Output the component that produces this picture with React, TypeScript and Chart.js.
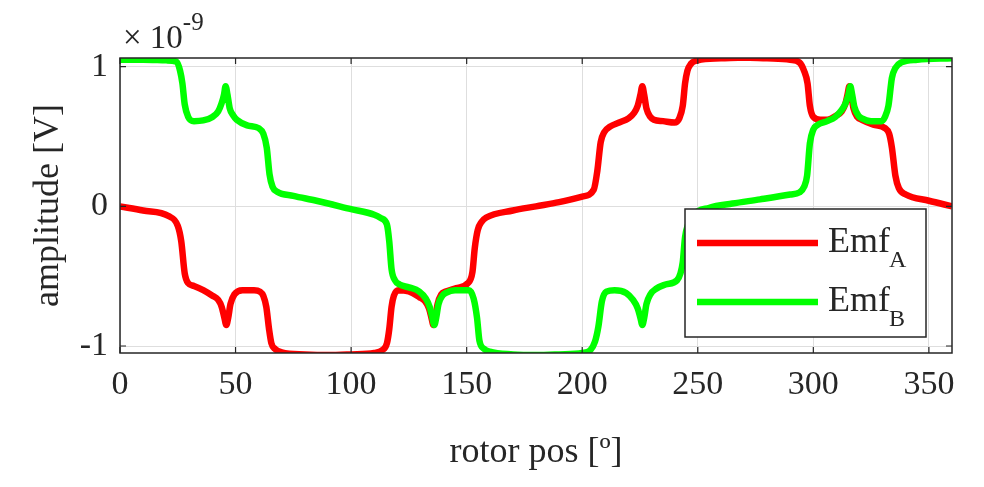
import { useEffect, useRef } from "react";
import { Chart, registerables } from "chart.js";

Chart.register(...registerables);

// rotor position (deg) and back-emf (x1e-9 V)
const emfAPos = [
  0, 10, 21, 25, 26.5, 28, 29.5, 32, 36, 40,
  42.5, 44, 45.2, 46, 46.8, 47.8, 49.5, 53, 58, 60.5,
  62, 63.3, 64.5, 65.5, 67, 70, 80, 90, 100, 110,
  113.5, 115.5, 116.5, 117.5, 118.5, 120.5, 125, 129.5, 132, 133.7,
  134.8, 135.6, 136.4, 137.4, 139, 141, 145.5, 150.5, 152.5, 153.5,
  154.8, 156.5, 158.5, 170, 180, 190, 200, 205, 206.5, 208,
  209.5, 212, 216, 220, 222.5, 224, 225.2, 226, 226.8, 227.8,
  229.5, 231, 235, 240, 242, 243.5, 244.5, 245.5, 247, 250,
  260, 270, 280, 290, 294, 296, 297.5, 298.5, 300, 303,
  306, 310, 312.3, 313.8, 314.8, 315.6, 316.4, 317.4, 319, 321,
  326, 331, 332.8, 334, 335.5, 337, 340, 350, 360,
];
const emfAVal = [
  0, -0.03, -0.07, -0.14, -0.25, -0.48, -0.55, -0.57, -0.6, -0.64,
  -0.67, -0.72, -0.8, -0.85, -0.8, -0.7, -0.63, -0.6, -0.6, -0.61,
  -0.64, -0.72, -0.88, -0.98, -1.02, -1.045, -1.06, -1.065, -1.06, -1.05,
  -1.03, -0.98, -0.88, -0.72, -0.64, -0.6, -0.61, -0.65, -0.68, -0.73,
  -0.8, -0.85, -0.8, -0.7, -0.63, -0.61, -0.585, -0.55, -0.47, -0.3,
  -0.17, -0.11, -0.08, -0.03, 0, 0.03, 0.07, 0.12, 0.25, 0.46,
  0.53, 0.57, 0.6, 0.63, 0.67, 0.72, 0.8, 0.86, 0.8, 0.7,
  0.64, 0.62, 0.61, 0.6, 0.63, 0.72, 0.88, 0.97, 1.02, 1.045,
  1.06, 1.065, 1.06, 1.05, 1.03, 0.97, 0.88, 0.72, 0.64, 0.62,
  0.62, 0.65, 0.68, 0.73, 0.8, 0.86, 0.8, 0.7, 0.64, 0.62,
  0.585, 0.56, 0.52, 0.42, 0.22, 0.13, 0.085, 0.04, 0,
];
const emfBPos = [
  0, 10, 20, 24.5, 26, 27, 28, 29.5, 32, 36,
  40, 42.5, 44, 45, 45.7, 46.5, 47.5, 49, 50.5, 55,
  60, 62, 63.5, 64.7, 66, 68, 75, 85, 100, 110,
  113, 115.5, 116.5, 117.5, 119, 121, 125, 129.5, 132.3, 134,
  135.2, 136, 136.8, 137.8, 139.5, 141, 145, 151, 153, 154.5,
  155.5, 157.5, 160, 170, 180, 190, 200, 203.5, 205.5, 207,
  208.5, 210.5, 214, 219, 222, 224, 225.2, 226, 226.8, 227.8,
  229.5, 232, 236, 241, 242.5, 243.5, 244.5, 246, 248, 255,
  265, 277, 290, 294, 296, 297.3, 298.5, 300, 302, 306,
  309.5, 312.3, 314, 315.2, 316, 316.8, 317.8, 319.5, 321, 325,
  329.5, 331, 332.5, 334, 335.5, 338, 345, 360,
];
const emfBVal = [
  1.05, 1.05, 1.045, 1.035, 0.97, 0.88, 0.73, 0.64, 0.61, 0.615,
  0.64, 0.68, 0.74, 0.8, 0.86, 0.8, 0.7, 0.65, 0.62, 0.58,
  0.56, 0.52, 0.42, 0.23, 0.14, 0.105, 0.075, 0.04, -0.02, -0.06,
  -0.085, -0.13, -0.25, -0.45, -0.53, -0.56, -0.58, -0.61, -0.66, -0.72,
  -0.8, -0.85, -0.8, -0.7, -0.64, -0.62, -0.6, -0.6, -0.66, -0.8,
  -0.96, -1.02, -1.04, -1.06, -1.065, -1.06, -1.05, -1.03, -0.97, -0.86,
  -0.68, -0.61, -0.6, -0.62, -0.67, -0.73, -0.8, -0.85, -0.8, -0.7,
  -0.63, -0.59, -0.56, -0.53, -0.48, -0.4, -0.22, -0.12, -0.06, -0.01,
  0.02, 0.05, 0.085, 0.1, 0.14, 0.22, 0.45, 0.55, 0.585, 0.61,
  0.64, 0.69, 0.74, 0.8, 0.86, 0.8, 0.71, 0.65, 0.63, 0.61,
  0.61, 0.64, 0.72, 0.92, 0.99, 1.03, 1.05, 1.06,
];

const xTicks = [0, 50, 100, 150, 200, 250, 300, 350];
const yTicks = [-1, 0, 1];
const seriesNames = ["Emf", "Emf"];
const seriesSubs = ["A", "B"];
const seriesColors = ["#ff0000", "#00ff00"];
const xTitle = "rotor pos [º]";
const yTitle = "amplitude [V]";
const expBase = "× 10";
const expPower = "-9";

const FONT = '"Liberation Serif", "DejaVu Serif", serif';
const INK = "#262626";

const decorPlugin = {
  id: "decor",
  afterDatasetsDraw(chart: any) {
    const { ctx, chartArea: a, scales } = chart;
    const xs = scales.x;
    const ys = scales.y;
    ctx.save();
    // axes box with inward ticks
    ctx.strokeStyle = INK;
    ctx.lineWidth = 1.5;
    ctx.strokeRect(a.left, a.top, a.right - a.left, a.bottom - a.top);
    ctx.lineWidth = 1.2;
    ctx.beginPath();
    xTicks.forEach((v) => {
      const px = xs.getPixelForValue(v);
      ctx.moveTo(px, a.bottom);
      ctx.lineTo(px, a.bottom - 6);
      ctx.moveTo(px, a.top);
      ctx.lineTo(px, a.top + 6);
    });
    yTicks.forEach((v) => {
      const py = ys.getPixelForValue(v);
      ctx.moveTo(a.left, py);
      ctx.lineTo(a.left + 6, py);
      ctx.moveTo(a.right, py);
      ctx.lineTo(a.right - 6, py);
    });
    ctx.stroke();

    // exponent label
    ctx.fillStyle = INK;
    ctx.textAlign = "left";
    ctx.textBaseline = "alphabetic";
    ctx.font = `33px ${FONT}`;
    ctx.fillText(expBase, a.left + 3, 48);
    const w = ctx.measureText(expBase).width;
    ctx.font = `25px ${FONT}`;
    ctx.fillText(expPower, a.left + 3 + w, 30);

    // axis titles
    ctx.font = `36px ${FONT}`;
    ctx.textAlign = "center";
    ctx.fillText(xTitle, (a.left + a.right) / 2, 462);
    ctx.save();
    ctx.translate(58, (a.top + a.bottom) / 2);
    ctx.rotate(-Math.PI / 2);
    ctx.fillText(yTitle, 0, 0);
    ctx.restore();

    // legend
    const lx = 685, ly = 209, lw = 241, lh = 128;
    ctx.fillStyle = "#ffffff";
    ctx.fillRect(lx, ly, lw, lh);
    ctx.strokeStyle = INK;
    ctx.lineWidth = 1.5;
    ctx.strokeRect(lx, ly, lw, lh);
    seriesNames.forEach((name, i) => {
      const y = 243 + i * 59;
      ctx.strokeStyle = seriesColors[i];
      ctx.lineWidth = 6.5;
      ctx.beginPath();
      ctx.moveTo(697, y);
      ctx.lineTo(818, y);
      ctx.stroke();
      ctx.fillStyle = INK;
      ctx.textAlign = "left";
      ctx.font = `36px ${FONT}`;
      ctx.fillText(name, 828, y + 9);
      const nw = ctx.measureText(name).width;
      ctx.font = `24px ${FONT}`;
      ctx.fillText(seriesSubs[i], 828 + nw - 1, y + 24);
    });
    ctx.restore();
  },
};

export default function App() {
  const chartRef = useRef<HTMLCanvasElement>(null);
  const chartInstance = useRef<Chart | null>(null);

  useEffect(() => {
    if (!chartRef.current) return;
    if (chartInstance.current) chartInstance.current.destroy();
    const ctx = chartRef.current.getContext("2d");
    if (!ctx) return;

    chartInstance.current = new Chart(ctx, {
      type: "line",
      data: {
        datasets: [
          {
            label: "EmfA",
            data: emfAPos.map((x, i) => ({ x, y: emfAVal[i] })),
            borderColor: seriesColors[0],
            borderWidth: 6.5,
            pointRadius: 0,
            cubicInterpolationMode: "monotone",
            order: 2,
          },
          {
            label: "EmfB",
            data: emfBPos.map((x, i) => ({ x, y: emfBVal[i] })),
            borderColor: seriesColors[1],
            borderWidth: 6.5,
            pointRadius: 0,
            cubicInterpolationMode: "monotone",
            order: 1,
          },
        ],
      },
      options: {
        responsive: true,
        maintainAspectRatio: false,
        animation: false,
        layout: { padding: { left: 0, right: 32, top: 58, bottom: 0 } },
        plugins: {
          legend: { display: false },
          tooltip: { enabled: false },
        },
        scales: {
          x: {
            type: "linear",
            min: 0,
            max: 360,
            afterBuildTicks: (s: any) => {
              s.ticks = xTicks.map((value) => ({ value }));
            },
            afterFit: (s: any) => {
              s.height = 134;
            },
            grid: { color: "#dedede", lineWidth: 1, drawTicks: false },
            border: { display: false },
            ticks: {
              padding: 12,
              color: INK,
              font: { family: FONT, size: 34 },
              maxRotation: 0,
              autoSkip: false,
            },
          },
          y: {
            type: "linear",
            min: -1.05,
            max: 1.062,
            afterBuildTicks: (s: any) => {
              s.ticks = yTicks.map((value) => ({ value }));
            },
            afterFit: (s: any) => {
              s.width = 120;
            },
            grid: { color: "#dedede", lineWidth: 1, drawTicks: false },
            border: { display: false },
            ticks: {
              padding: 12,
              color: INK,
              font: { family: FONT, size: 34 },
              autoSkip: false,
            },
          },
        },
      },
      plugins: [decorPlugin],
    });

    return () => {
      if (chartInstance.current) {
        chartInstance.current.destroy();
        chartInstance.current = null;
      }
    };
  }, []);

  return (
    <div style={{ position: "fixed", left: 0, top: 0, width: 984, height: 487, background: "#fff" }}>
      <canvas ref={chartRef}></canvas>
    </div>
  );
}
